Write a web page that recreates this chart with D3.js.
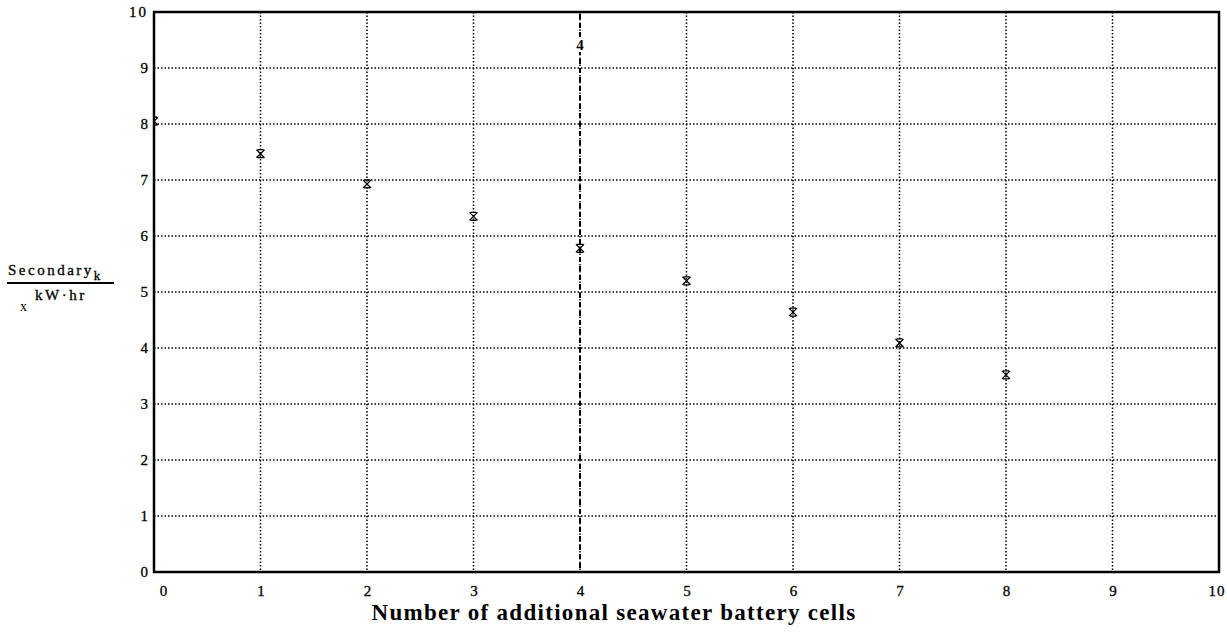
<!DOCTYPE html>
<html>
  <head>
    <title>Secondary battery energy</title>
    <script src="https://d3js.org/d3.v7.min.js"></script>
    <style>
      body { margin: 0; background: #fff; }
      text { font-family: "Liberation Serif", "DejaVu Serif", serif; fill: #000; }
      .tick text { font-size: 15px; stroke: #000; stroke-width: 0.3px; }
    </style>
  </head>
  <body>
    <div id="chart"></div>
    <script>
      // values
      var cells = [0, 1, 2, 3, 4, 5, 6, 7, 8];
      var secondary = [8.05, 7.47, 6.93, 6.35, 5.78, 5.2, 4.64, 4.09, 3.52];
      var xTicks = [0, 1, 2, 3, 4, 5, 6, 7, 8, 9, 10];
      var yTicks = [0, 1, 2, 3, 4, 5, 6, 7, 8, 9, 10];
      var markerX = 4;

      var width = 1227, height = 637;
      var plotLeft = 154, plotRight = 1219, plotTop = 12, plotBottom = 572;

      var svg = d3.select("#chart")
        .append("svg")
        .attr("width", width)
        .attr("height", height);

      var xScale = d3.scaleLinear().domain([0, 10]).range([plotLeft, plotRight]);
      var yScale = d3.scaleLinear().domain([0, 10]).range([plotBottom, plotTop]);

      // dotted grid
      svg.append("g")
        .selectAll("line")
        .data(xTicks.slice(1, -1))
        .enter()
        .append("line")
        .attr("x1", function(d) { return xScale(d); })
        .attr("x2", function(d) { return xScale(d); })
        .attr("y1", plotTop)
        .attr("y2", plotBottom)
        .attr("stroke", "#000")
        .attr("stroke-width", 1.5)
        .attr("stroke-dasharray", "1.5,2");

      svg.append("g")
        .selectAll("line")
        .data(yTicks.slice(1, -1))
        .enter()
        .append("line")
        .attr("x1", plotLeft)
        .attr("x2", plotRight)
        .attr("y1", function(d) { return yScale(d); })
        .attr("y2", function(d) { return yScale(d); })
        .attr("stroke", "#000")
        .attr("stroke-width", 1.5)
        .attr("stroke-dasharray", "1.5,2");

      // vertical marker line
      svg.append("line")
        .attr("x1", xScale(markerX))
        .attr("x2", xScale(markerX))
        .attr("y1", plotTop + 2)
        .attr("y2", plotBottom)
        .attr("stroke", "#000")
        .attr("stroke-width", 2)
        .attr("stroke-dasharray", "5,4");

      svg.append("rect")
        .attr("x", xScale(markerX) - 6)
        .attr("y", 37)
        .attr("width", 12)
        .attr("height", 15)
        .attr("fill", "#fff");

      svg.append("text")
        .attr("x", xScale(markerX))
        .attr("y", 50)
        .attr("text-anchor", "middle")
        .style("font-size", "15px")
        .style("font-weight", "bold")
        .text(markerX);

      // frame
      svg.append("rect")
        .attr("x", plotLeft)
        .attr("y", plotTop)
        .attr("width", plotRight - plotLeft)
        .attr("height", plotBottom - plotTop)
        .attr("fill", "none")
        .attr("stroke", "#000")
        .attr("stroke-width", 2.5);

      // axes (labels only)
      var xAxis = svg.append("g")
        .attr("transform", "translate(0," + plotBottom + ")")
        .call(d3.axisBottom(xScale).tickValues(xTicks).tickSize(0).tickPadding(13));
      xAxis.select(".domain").remove();
      xAxis.selectAll(".tick text")
        .style("letter-spacing", function(d) { return d === 10 ? "1px" : null; })
        .attr("text-anchor", function(d) { return d === 10 ? "end" : "middle"; })
        .attr("dx", function(d) { return d === 0 ? 9 : (d === 10 ? 6 : 0); });

      var yAxis = svg.append("g")
        .attr("transform", "translate(" + plotLeft + ",0)")
        .call(d3.axisLeft(yScale).tickValues(yTicks).tickSize(0).tickPadding(6));
      yAxis.select(".domain").remove();
      yAxis.selectAll(".tick text")
        .style("letter-spacing", function(d) { return d === 10 ? "2px" : null; });

      // points, clipped to the frame
      svg.append("clipPath")
        .attr("id", "plot-clip")
        .append("rect")
        .attr("x", plotLeft)
        .attr("y", plotTop)
        .attr("width", plotRight - plotLeft)
        .attr("height", plotBottom - plotTop);

      var star = "M-4,-4L4,4M-4,4L4,-4M-3,-4L3,-4M-3,4L3,4";
      svg.append("g")
        .attr("clip-path", "url(#plot-clip)")
        .selectAll("path")
        .data(cells)
        .enter()
        .append("path")
        .attr("transform", function(d, i) {
          return "translate(" + xScale(d) + "," + yScale(secondary[i]) + ")";
        })
        .attr("d", star)
        .attr("fill", "none")
        .attr("stroke", "#000")
        .attr("stroke-width", 1.3);

      // y label as a fraction
      var yl = svg.append("g");
      yl.append("text")
        .attr("x", 8)
        .attr("y", 275)
        .style("font-size", "15px")
        .style("letter-spacing", "2.5px")
        .style("stroke", "#000")
        .style("stroke-width", "0.3px")
        .text("Secondary")
        .append("tspan")
        .attr("dy", 5)
        .style("font-size", "13px")
        .text("k");
      yl.append("line")
        .attr("x1", 7)
        .attr("x2", 114)
        .attr("y1", 283)
        .attr("y2", 283)
        .attr("stroke", "#000")
        .attr("stroke-width", 1.8);
      yl.append("text")
        .attr("x", 35)
        .attr("y", 300)
        .style("font-size", "15px")
        .style("letter-spacing", "2.5px")
        .style("stroke", "#000")
        .style("stroke-width", "0.3px")
        .text("kW\u00b7hr");
      yl.append("text")
        .attr("x", 20)
        .attr("y", 311)
        .style("font-size", "14px")
        .style("fill", "#000")
        .text("x");

      // x label
      svg.append("text")
        .attr("x", 614)
        .attr("y", 620)
        .attr("text-anchor", "middle")
        .style("font-size", "23px")
        .style("letter-spacing", "1.3px")
        .style("font-weight", "bold")
        .text("Number of additional seawater battery cells");
    </script>
  </body>
</html>
